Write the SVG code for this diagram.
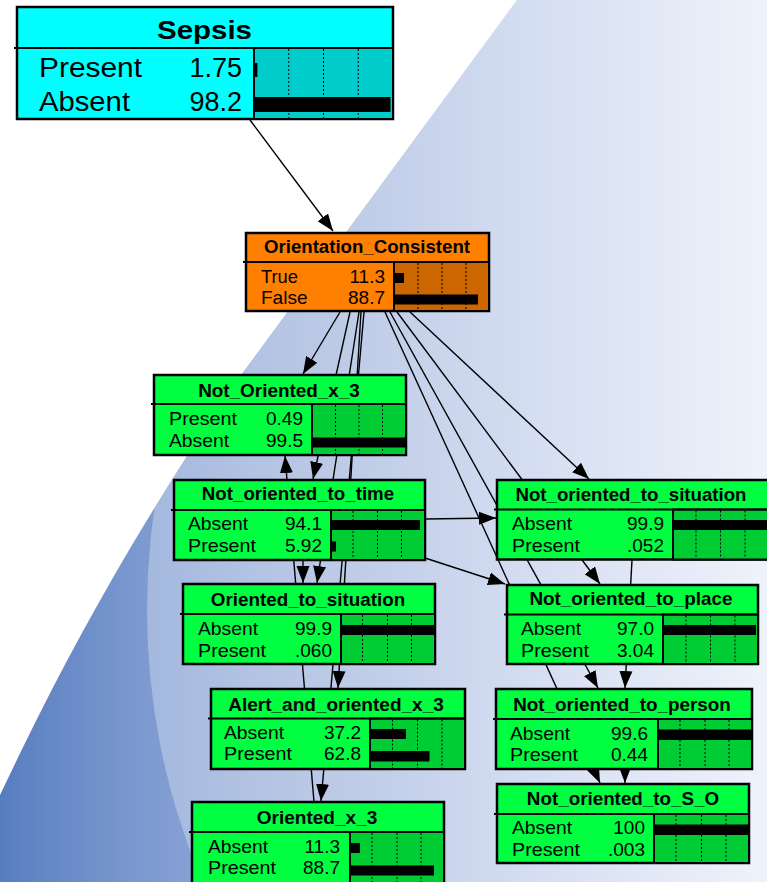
<svg xmlns="http://www.w3.org/2000/svg" width="767" height="882" viewBox="0 0 767 882">
  <defs>
    <linearGradient id="bgGrad" x1="0" y1="0" x2="767" y2="0" gradientUnits="userSpaceOnUse">
      <stop offset="0" stop-color="#587dbf"/>
      <stop offset="0.18" stop-color="#7b99d0"/>
      <stop offset="0.4" stop-color="#9cb0da"/>
      <stop offset="0.7" stop-color="#c3d0ec"/>
      <stop offset="1" stop-color="#e8edf9"/>
    </linearGradient>
    <clipPath id="bgClip">
      <path d="M517,0 L767,0 L767,882 L0,882 L0,795 C50,690 110,570 230,390 Z"/>
    </clipPath>
    <marker id="arrow" markerUnits="userSpaceOnUse" markerWidth="18" markerHeight="14" refX="17" refY="7" orient="auto">
      <path d="M0,0.5 L17,7 L0,13.5 Z" fill="#000"/>
    </marker>
  </defs>
  <style>
    .edge { stroke: #000; stroke-width: 1.4; fill: none; marker-end: url(#arrow); }
    .frame { stroke: #000; stroke-width: 2.5; }
    .bars { stroke: #000; stroke-width: 2; }
    .sep { stroke: #000; stroke-width: 2; }
    .grid { stroke: #000; stroke-width: 1; stroke-dasharray: 2 2; }
    .bar { fill: #000; }
    .green .frame { fill: #00ff41; }
    .green .bars { fill: #00cc33; }
    .orange .frame { fill: #ff8000; }
    .orange .bars { fill: #cc6600; }
    .cyan .frame { fill: #00ffff; }
    .cyan .bars { fill: #00cccc; }
    text { font-family: "Liberation Sans", Arial, sans-serif; fill: #000; }
    .title { font-weight: bold; font-size: 18.5px; text-anchor: middle; }
    .lbl { font-size: 19px; }
    .val { font-size: 19px; text-anchor: end; }
    .big-title { font-weight: bold; font-size: 25px; text-anchor: middle; }
    .big { font-size: 27px; }
    .big-val { font-size: 27px; text-anchor: end; }
  </style>

  <!-- backdrop -->
  <rect x="0" y="0" width="767" height="882" fill="#ffffff"/>
  <g clip-path="url(#bgClip)">
    <rect x="0" y="0" width="767" height="882" fill="url(#bgGrad)"/>
    <circle cx="841" cy="610" r="694" fill="#ffffff" fill-opacity="0.3"/>
  </g>

  <!-- connectors -->
  <g id="edges">
    <line class="edge" x1="250" y1="120" x2="333" y2="231"/>
    <line class="edge" x1="340" y1="312" x2="303" y2="374"/>
    <line class="edge" x1="350" y1="312" x2="313" y2="479"/>
    <line class="edge" x1="359" y1="312" x2="317" y2="583"/>
    <line class="edge" x1="361" y1="312" x2="338" y2="688"/>
    <line class="edge" x1="364" y1="312" x2="321" y2="801"/>
    <line class="edge" x1="314" y1="802" x2="285" y2="456"/>
    <line class="edge" x1="303" y1="560" x2="303" y2="583"/>
    <line class="edge" x1="425" y1="519" x2="496" y2="518"/>
    <line class="edge" x1="425" y1="558" x2="505" y2="584"/>
    <line class="edge" x1="410" y1="312" x2="589" y2="479"/>
    <line class="edge" x1="397" y1="312" x2="600" y2="584"/>
    <line class="edge" x1="390" y1="312" x2="598" y2="688"/>
    <line class="edge" x1="385" y1="312" x2="600" y2="783"/>
    <line class="edge" x1="632" y1="560" x2="625" y2="688"/>
    <line class="edge" x1="625" y1="769" x2="625" y2="783"/>
  </g>

  <!-- Sepsis -->
  <g id="node-sepsis" class="cyan">
    <rect class="frame" x="17" y="7" width="376" height="112"/>
    <rect class="bars" x="254" y="48" width="139" height="71"/>
    <line class="sep" x1="14" y1="48" x2="393" y2="48"/>
    <line class="grid" x1="288.75" y1="49" x2="288.75" y2="118"/>
    <line class="grid" x1="323.5" y1="49" x2="323.5" y2="118"/>
    <line class="grid" x1="358.25" y1="49" x2="358.25" y2="118"/>
    <rect class="bar" x="255" y="63" width="2.4" height="14"/>
    <rect class="bar" x="255" y="97" width="135.5" height="15"/>
    <text class="big-title" x="204.5" y="39" textLength="95" lengthAdjust="spacingAndGlyphs">Sepsis</text>
    <text class="big" x="39" y="77" textLength="103" lengthAdjust="spacingAndGlyphs">Present</text>
    <text class="big-val" x="242" y="77">1.75</text>
    <text class="big" x="39" y="111" textLength="91" lengthAdjust="spacingAndGlyphs">Absent</text>
    <text class="big-val" x="242" y="111">98.2</text>
  </g>

  <!-- Orientation_Consistent -->
  <g id="node-orientation-consistent" class="orange">
    <rect class="frame" x="246" y="233" width="243" height="78"/>
    <rect class="bars" x="394" y="262" width="95" height="49"/>
    <line class="sep" x1="243" y1="262" x2="489" y2="262"/>
    <line class="grid" x1="418" y1="263" x2="418" y2="310"/>
    <line class="grid" x1="442" y1="263" x2="442" y2="310"/>
    <line class="grid" x1="466" y1="263" x2="466" y2="310"/>
    <rect class="bar" x="395" y="273" width="9" height="10"/>
    <rect class="bar" x="395" y="294.5" width="83" height="10"/>
    <text class="title" x="367" y="253" textLength="206" lengthAdjust="spacingAndGlyphs">Orientation_Consistent</text>
    <text class="lbl" x="261" y="283" textLength="37" lengthAdjust="spacingAndGlyphs">True</text>
    <text class="val" x="385" y="283">11.3</text>
    <text class="lbl" x="261" y="303.5" textLength="46.5" lengthAdjust="spacingAndGlyphs">False</text>
    <text class="val" x="385" y="303.5">88.7</text>
  </g>

  <!-- Not_Oriented_x_3 -->
  <g id="node-not-oriented-x-3" class="green">
    <rect class="frame" x="154" y="375" width="252" height="80"/>
    <rect class="bars" x="312" y="404" width="94" height="51"/>
    <line class="sep" x1="151" y1="404" x2="406" y2="404"/>
    <line class="grid" x1="335.5" y1="405" x2="335.5" y2="454"/>
    <line class="grid" x1="359" y1="405" x2="359" y2="454"/>
    <line class="grid" x1="382.5" y1="405" x2="382.5" y2="454"/>
    <rect class="bar" x="313" y="437.5" width="93" height="10"/>
    <text class="title" x="279" y="397" textLength="161.7" lengthAdjust="spacingAndGlyphs">Not_Oriented_x_3</text>
    <text class="lbl" x="169" y="425" textLength="68" lengthAdjust="spacingAndGlyphs">Present</text>
    <text class="val" x="303" y="425">0.49</text>
    <text class="lbl" x="169" y="447" textLength="60" lengthAdjust="spacingAndGlyphs">Absent</text>
    <text class="val" x="303" y="447">99.5</text>
  </g>

  <!-- Not_oriented_to_time -->
  <g id="node-not-oriented-to-time" class="green">
    <rect class="frame" x="174" y="480" width="251" height="80"/>
    <rect class="bars" x="331" y="510" width="94" height="50"/>
    <line class="sep" x1="171" y1="510" x2="425" y2="510"/>
    <line class="grid" x1="353" y1="511" x2="353" y2="559"/>
    <line class="grid" x1="377.5" y1="511" x2="377.5" y2="559"/>
    <line class="grid" x1="401.5" y1="511" x2="401.5" y2="559"/>
    <rect class="bar" x="332" y="520" width="88" height="10"/>
    <rect class="bar" x="332" y="541.5" width="4" height="10"/>
    <text class="title" x="298" y="500" textLength="192.3" lengthAdjust="spacingAndGlyphs">Not_oriented_to_time</text>
    <text class="lbl" x="188" y="530" textLength="60" lengthAdjust="spacingAndGlyphs">Absent</text>
    <text class="val" x="322" y="530">94.1</text>
    <text class="lbl" x="188" y="551.5" textLength="68" lengthAdjust="spacingAndGlyphs">Present</text>
    <text class="val" x="322" y="551.5">5.92</text>
  </g>

  <!-- Not_oriented_to_situation -->
  <g id="node-not-oriented-to-situation" class="green">
    <rect class="frame" x="497" y="480" width="275" height="79.5"/>
    <rect class="bars" x="673" y="509.5" width="99" height="50"/>
    <line class="sep" x1="494" y1="509.5" x2="772" y2="509.5"/>
    <line class="grid" x1="696" y1="510.5" x2="696" y2="558.5"/>
    <line class="grid" x1="720.5" y1="510.5" x2="720.5" y2="558.5"/>
    <line class="grid" x1="745" y1="510.5" x2="745" y2="558.5"/>
    <rect class="bar" x="674" y="520" width="98" height="10"/>
    <text class="title" x="631" y="500.5" textLength="231" lengthAdjust="spacingAndGlyphs">Not_oriented_to_situation</text>
    <text class="lbl" x="512" y="530" textLength="60" lengthAdjust="spacingAndGlyphs">Absent</text>
    <text class="val" x="664" y="530">99.9</text>
    <text class="lbl" x="512" y="551.5" textLength="68" lengthAdjust="spacingAndGlyphs">Present</text>
    <text class="val" x="664" y="551.5">.052</text>
  </g>

  <!-- Oriented_to_situation -->
  <g id="node-oriented-to-situation" class="green">
    <rect class="frame" x="183" y="584" width="252" height="80"/>
    <rect class="bars" x="341" y="614" width="94" height="50"/>
    <line class="sep" x1="180" y1="614" x2="435" y2="614"/>
    <line class="grid" x1="362.5" y1="615" x2="362.5" y2="663"/>
    <line class="grid" x1="387.5" y1="615" x2="387.5" y2="663"/>
    <line class="grid" x1="411.5" y1="615" x2="411.5" y2="663"/>
    <rect class="bar" x="342" y="625" width="93" height="10"/>
    <text class="title" x="308" y="605.5" textLength="194.3" lengthAdjust="spacingAndGlyphs">Oriented_to_situation</text>
    <text class="lbl" x="198" y="635" textLength="60" lengthAdjust="spacingAndGlyphs">Absent</text>
    <text class="val" x="332" y="635">99.9</text>
    <text class="lbl" x="198" y="656.5" textLength="68" lengthAdjust="spacingAndGlyphs">Present</text>
    <text class="val" x="332" y="656.5">.060</text>
  </g>

  <!-- Not_oriented_to_place -->
  <g id="node-not-oriented-to-place" class="green">
    <rect class="frame" x="507" y="585" width="251" height="79"/>
    <rect class="bars" x="663" y="614.5" width="95" height="49.5"/>
    <line class="sep" x1="504" y1="614.5" x2="758" y2="614.5"/>
    <line class="grid" x1="686" y1="615.5" x2="686" y2="663"/>
    <line class="grid" x1="710.5" y1="615.5" x2="710.5" y2="663"/>
    <line class="grid" x1="735" y1="615.5" x2="735" y2="663"/>
    <rect class="bar" x="664" y="625" width="92" height="10"/>
    <text class="title" x="631" y="605" textLength="203" lengthAdjust="spacingAndGlyphs">Not_oriented_to_place</text>
    <text class="lbl" x="521" y="635" textLength="60" lengthAdjust="spacingAndGlyphs">Absent</text>
    <text class="val" x="654" y="635">97.0</text>
    <text class="lbl" x="521" y="656.5" textLength="68" lengthAdjust="spacingAndGlyphs">Present</text>
    <text class="val" x="654" y="656.5">3.04</text>
  </g>

  <!-- Alert_and_oriented_x_3 -->
  <g id="node-alert-and-oriented-x-3" class="green">
    <rect class="frame" x="211" y="689" width="254" height="80"/>
    <rect class="bars" x="370" y="718.5" width="95" height="50.5"/>
    <line class="sep" x1="208" y1="718.5" x2="465" y2="718.5"/>
    <line class="grid" x1="392.5" y1="719.5" x2="392.5" y2="768"/>
    <line class="grid" x1="417.5" y1="719.5" x2="417.5" y2="768"/>
    <line class="grid" x1="442" y1="719.5" x2="442" y2="768"/>
    <rect class="bar" x="371" y="729" width="35" height="10"/>
    <rect class="bar" x="371" y="751" width="58.5" height="10.5"/>
    <text class="title" x="336" y="711" textLength="215.7" lengthAdjust="spacingAndGlyphs">Alert_and_oriented_x_3</text>
    <text class="lbl" x="224" y="738.5" textLength="60" lengthAdjust="spacingAndGlyphs">Absent</text>
    <text class="val" x="361" y="738.5">37.2</text>
    <text class="lbl" x="224" y="760" textLength="68" lengthAdjust="spacingAndGlyphs">Present</text>
    <text class="val" x="361" y="760">62.8</text>
  </g>

  <!-- Not_oriented_to_person -->
  <g id="node-not-oriented-to-person" class="green">
    <rect class="frame" x="496" y="689" width="256" height="80"/>
    <rect class="bars" x="658" y="719" width="94" height="50"/>
    <line class="sep" x1="493" y1="719" x2="752" y2="719"/>
    <line class="grid" x1="680" y1="720" x2="680" y2="768"/>
    <line class="grid" x1="705" y1="720" x2="705" y2="768"/>
    <line class="grid" x1="729" y1="720" x2="729" y2="768"/>
    <rect class="bar" x="659" y="729.5" width="93" height="10.5"/>
    <text class="title" x="622" y="710.5" textLength="217.7" lengthAdjust="spacingAndGlyphs">Not_oriented_to_person</text>
    <text class="lbl" x="510" y="739.5" textLength="60" lengthAdjust="spacingAndGlyphs">Absent</text>
    <text class="val" x="648" y="739.5">99.6</text>
    <text class="lbl" x="510" y="760.5" textLength="68" lengthAdjust="spacingAndGlyphs">Present</text>
    <text class="val" x="648" y="760.5">0.44</text>
  </g>

  <!-- Not_oriented_to_S_O -->
  <g id="node-not-oriented-to-s-o" class="green">
    <rect class="frame" x="497" y="784" width="252" height="79"/>
    <rect class="bars" x="654" y="814" width="95" height="49"/>
    <line class="sep" x1="494" y1="814" x2="749" y2="814"/>
    <line class="grid" x1="676" y1="815" x2="676" y2="862"/>
    <line class="grid" x1="701.5" y1="815" x2="701.5" y2="862"/>
    <line class="grid" x1="726" y1="815" x2="726" y2="862"/>
    <rect class="bar" x="655" y="824.5" width="94" height="10.5"/>
    <text class="title" x="623" y="805" textLength="192.3" lengthAdjust="spacingAndGlyphs">Not_oriented_to_S_O</text>
    <text class="lbl" x="512" y="833.5" textLength="60" lengthAdjust="spacingAndGlyphs">Absent</text>
    <text class="val" x="645" y="833.5">100</text>
    <text class="lbl" x="512" y="855.5" textLength="68" lengthAdjust="spacingAndGlyphs">Present</text>
    <text class="val" x="645" y="855.5">.003</text>
  </g>

  <!-- Oriented_x_3 -->
  <g id="node-oriented-x-3" class="green">
    <rect class="frame" x="192" y="802" width="252" height="82"/>
    <rect class="bars" x="350" y="832" width="94" height="52"/>
    <line class="sep" x1="189" y1="832" x2="444" y2="832"/>
    <line class="grid" x1="372" y1="833" x2="372" y2="884"/>
    <line class="grid" x1="397" y1="833" x2="397" y2="884"/>
    <line class="grid" x1="421" y1="833" x2="421" y2="884"/>
    <rect class="bar" x="351" y="843" width="9" height="10"/>
    <rect class="bar" x="351" y="865.5" width="83" height="10"/>
    <text class="title" x="317" y="824" textLength="120.6" lengthAdjust="spacingAndGlyphs">Oriented_x_3</text>
    <text class="lbl" x="208" y="852.5" textLength="60" lengthAdjust="spacingAndGlyphs">Absent</text>
    <text class="val" x="340" y="852.5">11.3</text>
    <text class="lbl" x="208" y="874" textLength="68" lengthAdjust="spacingAndGlyphs">Present</text>
    <text class="val" x="340" y="874">88.7</text>
  </g>
</svg>
